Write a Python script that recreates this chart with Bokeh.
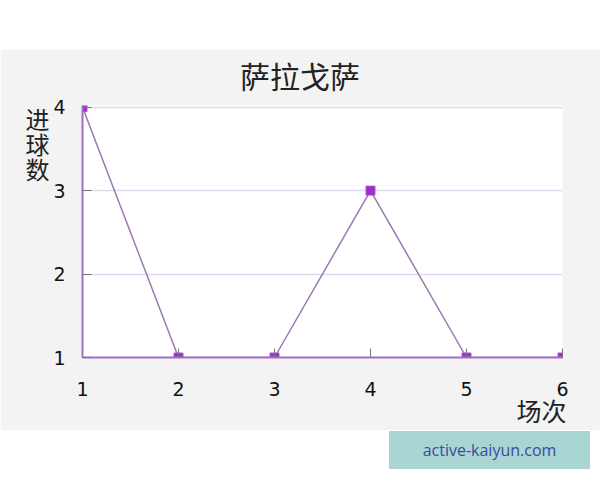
from bokeh.plotting import figure
from bokeh.models import Range1d, FixedTicker, Spacer, Div, Title, LinearAxis
from bokeh.layouts import column
from bokeh.embed import file_html
from bokeh.resources import INLINE

title_text = "萨拉戈萨"
x_label = "场次"
y_label_chars = ["进", "球", "数"]
matches = [1, 2, 3, 4, 5, 6]
goals = [4, 1, 1, 3, 1, 1]
x_ticks = [1, 2, 3, 4, 5, 6]
y_ticks = [1, 2, 3, 4]
watermark = "active-kaiyun.com"

W, H = 600, 381
p = figure(width=W, height=H, output_backend="svg", toolbar_location=None,
           title=None,
           x_range=Range1d(1, 6), y_range=Range1d(1, 4.02),
           min_border_left=82, min_border_right=38, min_border_top=53,
           min_border_bottom=73)
p.background_fill_color = "white"
p.border_fill_color = "#f3f3f3"
p.outline_line_color = None

xa = p.below[0]
ya = p.left[0]

for ax in (xa, ya):
    ax.axis_line_color = "#a070c0"
    ax.axis_line_width = 2
    ax.major_tick_in = 9
    ax.major_tick_out = 0
    ax.major_tick_line_color = "#777777"
    ax.minor_tick_line_color = None
    ax.major_label_text_font = "DejaVu Sans"
    ax.major_label_text_font_size = "19px"
    ax.major_label_text_color = "#111111"
    ax.axis_label_text_font = "Noto Sans CJK SC"
    ax.axis_label_text_font_style = "normal"
    ax.axis_label_text_color = "#222222"
xa.ticker = FixedTicker(ticks=x_ticks)
ya.ticker = FixedTicker(ticks=y_ticks)
xa.major_label_standoff = 24
ya.major_label_standoff = 17

# stacked characters, padded with empty lines so the block sits near the top
ya.axis_label = "\n".join(y_label_chars + [""] * 7)
ya.axis_label_text_font_size = "24px"
ya.axis_label_text_line_height = 0.718
ya.axis_label_orientation = "horizontal"
ya.axis_label_align = "center"
ya.axis_label_standoff = 1

# chart title, drawn as the name of a bare axis above the frame
# (padded with non-collapsing spaces so it sits a little left of centre)
top_axis = LinearAxis(ticker=FixedTicker(ticks=[]), axis_line_color=None,
                      major_tick_line_color=None, minor_tick_line_color=None,
                      major_tick_in=0, major_tick_out=0, major_label_standoff=0,
                      axis_label=title_text + "\u3000\u2002",
                      axis_label_standoff=9,
                      axis_label_text_font="Noto Sans CJK SC",
                      axis_label_text_font_size="30px",
                      axis_label_text_font_style="normal",
                      axis_label_text_color="#222222")
p.add_layout(top_axis, "above")

# x-axis name at the right end, below the tick labels
p.add_layout(Title(text=x_label, align="right", offset=-4, standoff=-17,
                   text_font="Noto Sans CJK SC", text_font_size="25px",
                   text_font_style="normal", text_color="#222222"), "below")

p.xgrid.grid_line_color = None
p.ygrid.grid_line_color = "#e2d8ee"
p.ygrid.grid_line_width = 1.5
p.ygrid.ticker = FixedTicker(ticks=y_ticks)

p.line(matches, goals, line_color="#9a78b0", line_width=1.5)
p.scatter(matches, goals, marker="square", size=9, fill_color="#9a30c8",
          line_color="#b050d8")

top = Spacer(width=W, height=49)
wm = Div(text=watermark, width=201, height=38,
         styles={"background-color": "#a9d6d3", "color": "#3a4aa0",
                 "font-family": "Open Sans, sans-serif", "font-size": "16px",
                 "display": "flex", "align-items": "center",
                 "justify-content": "center", "margin-left": "389px",
                 "margin-top": "1px"})
layout = column(top, p, wm, spacing=0)

open("out.html", "w").write(file_html(layout, INLINE))
